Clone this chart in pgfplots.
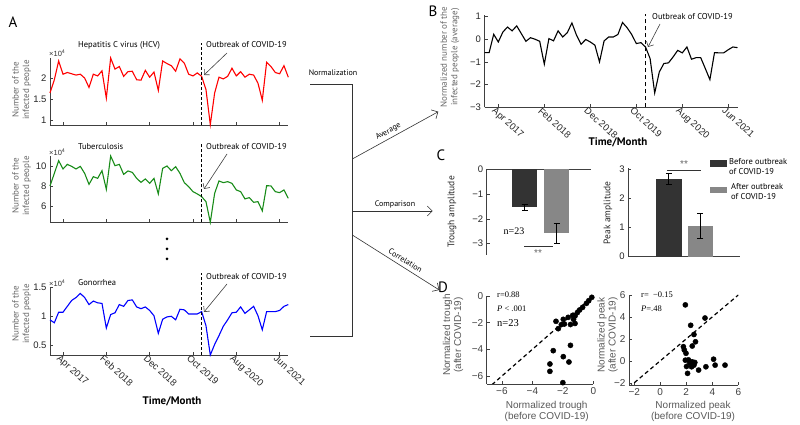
\documentclass[border=0pt]{standalone}
\usepackage{fontspec}
\setmainfont{Liberation Sans}
\newfontfamily\myr{PT Sans}
\newfontfamily\ser{Liberation Serif}
\usepackage{pgfplots}
\usepackage{pgfplotstable}
\pgfplotsset{compat=1.18}
\usetikzlibrary{arrows.meta}
\definecolor{axgray}{gray}{0.25}
\definecolor{labgray}{gray}{0.4}
\definecolor{darkbar}{gray}{0.2}
\definecolor{lightbar}{gray}{0.53}
\definecolor{mgreen}{rgb}{0.1,0.55,0.1}
\pgfplotsset{
  mat/.style={
    scale only axis, anchor=south west,
    axis lines*=left, tick align=inside,
    axis line style={axgray, line width=0.9pt, -},
    major tick style={axgray, line width=0.6pt},
    major tick length=3pt,
    tick label style={font=\fontsize{9.5}{10}\selectfont, text=black!85},
    /pgf/number format/assume math mode=true,
    clip=false,
  },
  datex/.style={xmin=0, xmax=55, xtick={3,13,23,33,43,53}},
  datelabels/.style={xticklabels={Apr 2017,Feb 2018,Dec 2018,Oct 2019,Aug 2020,Jun 2021},
    xticklabel style={rotate=-42, anchor=north west, inner sep=1pt, xshift=-3pt, font=\fontsize{9.5}{10}\selectfont}},
}
\pgfplotstableread[row sep=\\,header=false]{
1.65\\1.96\\2.40\\2.09\\2.13\\2.10\\2.07\\2.09\\2.00\\1.78\\2.09\\2.05\\2.17\\1.53\\2.47\\2.21\\2.27\\2.04\\2.15\\2.16\\1.96\\1.95\\2.18\\2.02\\2.14\\1.71\\2.40\\2.34\\2.29\\2.16\\2.45\\2.35\\2.09\\2.05\\2.12\\2.04\\1.73\\0.91\\1.65\\2.02\\1.98\\2.04\\2.23\\2.05\\2.15\\2.02\\2.09\\2.07\\1.88\\1.48\\2.37\\2.27\\2.13\\2.10\\2.29\\2.02\\
}\hcv
\pgfplotstableread[row sep=\\,header=false]{
8.07\\9.33\\10.6\\9.77\\10.23\\10.03\\9.77\\10.03\\9.33\\8.23\\9.0\\8.83\\9.6\\7.73\\11.07\\10.1\\10.23\\9.23\\9.57\\9.43\\8.83\\8.43\\8.77\\8.33\\8.83\\7.27\\9.83\\10.07\\9.6\\10.0\\9.33\\8.4\\8.0\\7.5\\7.27\\7.0\\6.5\\4.43\\7.33\\8.57\\8.4\\8.5\\8.33\\7.67\\7.5\\6.77\\6.9\\6.43\\6.5\\5.57\\8.1\\8.07\\7.5\\7.4\\7.67\\6.83\\
}\tb
\pgfplotstableread[row sep=\\,header=false]{
0.94\\0.89\\1.07\\1.07\\1.17\\1.27\\1.32\\1.39\\1.32\\1.20\\1.26\\1.23\\1.22\\0.80\\1.03\\1.06\\1.20\\1.17\\1.27\\1.28\\1.16\\1.13\\1.16\\1.10\\1.01\\0.71\\0.95\\0.99\\1.00\\0.94\\1.12\\1.11\\1.04\\1.04\\1.04\\1.08\\0.84\\0.34\\0.52\\0.67\\0.83\\0.94\\1.06\\1.07\\1.16\\1.05\\1.11\\1.17\\1.01\\0.77\\1.08\\1.08\\1.08\\1.10\\1.17\\1.20\\
}\gon
\pgfplotstableread[row sep=\\,header=false]{
-0.59\\-0.59\\0.22\\-0.12\\0.32\\0.54\\0.37\\0.59\\0.25\\-0.09\\0.07\\0.0\\-0.09\\-1.10\\0.03\\-0.07\\0.37\\0.10\\0.29\\0.72\\0.18\\-0.22\\-0.01\\-0.12\\-0.26\\-1.00\\-0.07\\0.10\\0.10\\0.21\\0.74\\0.51\\0.21\\-0.19\\-0.15\\-0.34\\-0.85\\-2.37\\-1.44\\-1.07\\-1.04\\-0.78\\-0.49\\-0.60\\-0.34\\-0.88\\-0.81\\-0.81\\-1.29\\-1.78\\-0.59\\-0.60\\-0.60\\-0.46\\-0.34\\-0.37\\
}\avg
\begin{document}
\begin{tikzpicture}[x=1pt,y=1pt]
\useasboundingbox (0,0) rectangle (800,425);
% ---------------- Panel A ----------------
\begin{axis}[mat, datex, at={(50pt,300pt)}, width=238.3pt, height=67pt,
  ymin=0.9, ymax=2.47, ytick={1,1.5,2}, yticklabels={1,1.5,2}, xticklabels={}]
\addplot[red, line width=1.1pt] table[x expr=\coordindex, y index=0] {\hcv};
\draw[dashed, line width=0.7pt, dash pattern=on 3pt off 2pt] (axis cs:35,0.9) -- (axis cs:35,2.82);
\end{axis}
\begin{axis}[mat, datex, at={(50pt,202.7pt)}, width=238.3pt, height=66.3pt,
  ymin=4.43, ymax=11.07, ytick={6,8,10}, yticklabels={6,8,10}, xticklabels={}]
\addplot[mgreen, line width=1.1pt] table[x expr=\coordindex, y index=0] {\tb};
\draw[dashed, line width=0.7pt, dash pattern=on 3pt off 2pt] (axis cs:35,4.43) -- (axis cs:35,12.37);
\end{axis}
\begin{axis}[mat, datex, datelabels, at={(50pt,70pt)}, width=238.3pt, height=68pt,
  ymin=0.34, ymax=1.5, ytick={0.5,1,1.5}, yticklabels={0.5,1,1.5}]
\addplot[blue, line width=1.1pt] table[x expr=\coordindex, y index=0] {\gon};
\draw[dashed, line width=0.7pt, dash pattern=on 3pt off 2pt] (axis cs:35,0.34) -- (axis cs:35,1.74);
\end{axis}
% Panel A annotations
\node[font=\fontsize{15}{16}\myr] at (13,403) {A};
\foreach \yc in {335,239,111} {
  \node[rotate=90, align=center, font=\fontsize{9}{10.5}\myr, text=labgray] at (21.5,\yc) {Number of the\\infected people};
}
\foreach \yc in {372, 273, 142} {
  \node[anchor=west, inner sep=0pt, font=\fontsize{7.5}{8}\selectfont, text=black!80] at (49,\yc) {×10\textsuperscript{4}};
}
\node[anchor=west, inner sep=0pt, font=\fontsize{8.5}{9}\myr] at (78,380) {Hepatitis C virus (HCV)};
\node[anchor=west, inner sep=0pt, font=\fontsize{8.5}{9}\myr] at (78,278) {Tuberculosis};
\node[anchor=west, inner sep=0pt, font=\fontsize{8.5}{9}\myr] at (78,142) {Gonorrhea};
\foreach \yt/\ys/\ye in {380/372/350, 278/271/236, 148/141/113} {
  \node[anchor=west, inner sep=0pt, font=\fontsize{8.5}{9}\myr] at (206,\yt) {Outbreak of COVID-19};
  \draw[-{Straight Barb[length=4pt]}, black!75, line width=0.6pt] (227,\ys) -- (204,\ye);
}
\foreach \yc in {186,176,166} { \fill (167,\yc) circle (1.5); }
\node[font=\fontsize{11}{12}\myr\bfseries] at (172,24) {Time/Month};
% ---------------- Flow ----------------
\draw[line width=0.9pt, black!80] (310,341) -- (352.3,341) -- (352.3,89) -- (310,89);
\node[font=\fontsize{8}{9}\myr] at (333,352) {Normalization};
\draw[-{Straight Barb[length=5pt]}, black!80, line width=0.6pt] (352.3,266) -- (438.3,313.3);
\node[rotate=28.7, font=\fontsize{8}{9}\myr] at (388.3,293.3) {Average};
\draw[-{Straight Barb[length=5pt]}, black!80, line width=0.6pt] (352.3,214) -- (432.7,214);
\node[font=\fontsize{8}{9}\myr] at (395,221) {Comparison};
\draw[-{Straight Barb[length=5pt]}, black!80, line width=0.6pt] (352.3,190) -- (439.3,135);
\node[rotate=-32, font=\fontsize{8}{9}\myr] at (405.4,164.5) {Correlation};
% ---------------- Panel B ----------------
\begin{axis}[mat, datex, datelabels, at={(484.5pt,317.7pt)}, width=253pt, height=92.3pt,
  ymin=-3, ymax=1.07, ytick={-3,-2,-1,0,1}, yticklabels={−3,−2,−1,0,1}]
\addplot[black, line width=1.1pt] table[x expr=\coordindex, y index=0] {\avg};
\draw[line width=1.3pt, dash pattern=on 4pt off 3pt] (axis cs:35,-3) -- (axis cs:35,1.11);
\end{axis}
\node[font=\fontsize{15}{16}\myr] at (433,414) {B};
\node[rotate=90, align=center, font=\fontsize{9}{10.5}\myr, text=labgray] at (450,368) {Normalized number of the\\infected people (average)};
\node[anchor=west, inner sep=0pt, font=\fontsize{8.5}{9}\myr] at (652,408) {Outbreak of COVID-19};
\draw[-{Straight Barb[length=4pt]}, black!75, line width=0.6pt] (660,401) -- (648,378);
\node[font=\fontsize{11}{12}\myr\bfseries] at (618,283) {Time/Month};
% ---------------- Panel C ----------------
\begin{axis}[mat, at={(486.7pt,170pt)}, width=104pt, height=85.7pt,
  axis x line*=top, axis y line*=left,
  xmin=-0.174, xmax=3.056, ymin=-3.46, ymax=0, xtick=\empty,
  ytick={-3,-2,-1,0}, yticklabels={−3,−2,−1,0}]
\addplot[ybar, bar width=25.5pt, fill=darkbar, draw=none,
  error bars/.cd, y dir=both, y explicit, error bar style={black, line width=0.8pt},
  error mark options={rotate=90, mark size=3pt, black, line width=0.8pt}]
  coordinates {(1,-1.53) +- (0,0.12)};
\addplot[ybar, bar width=25.5pt, fill=lightbar, draw=none,
  error bars/.cd, y dir=both, y explicit, error bar style={black, line width=0.8pt},
  error mark options={rotate=90, mark size=3pt, black, line width=0.8pt}]
  coordinates {(2,-2.58) +- (0,0.40)};
\end{axis}
\begin{axis}[mat, at={(628.3pt,168.3pt)}, width=111.7pt, height=88.7pt,
  xmin=-0.286, xmax=3.26, ymin=0, ymax=3.05, xtick=\empty,
  ytick={0,1,2,3}, yticklabels={0,1,2,3}]
\addplot[ybar, bar width=25.5pt, fill=darkbar, draw=none,
  error bars/.cd, y dir=both, y explicit, error bar style={black, line width=0.8pt},
  error mark options={rotate=90, mark size=3pt, black, line width=0.8pt}]
  coordinates {(1,2.66) +- (0,0.19)};
\addplot[ybar, bar width=25.5pt, fill=lightbar, draw=none,
  error bars/.cd, y dir=both, y explicit, error bar style={black, line width=0.8pt},
  error mark options={rotate=90, mark size=3pt, black, line width=0.8pt}]
  coordinates {(2,1.06) +- (0,0.43)};
\end{axis}
\node[font=\fontsize{15}{16}\myr] at (441,270) {C};
\node[rotate=90, font=\fontsize{9.5}{10}\myr, text=black!85] at (452,213) {Trough amplitude};
\node[rotate=90, font=\fontsize{9.5}{10}\myr, text=black!85] at (608,212) {Peak amplitude};
\node[font=\fontsize{10}{11}\ser] at (514,194) {n=23};
\draw[black!80, line width=0.6pt] (524,179) -- (553,179);
\node[font=\fontsize{10}{11}\selectfont, text=black!60] at (538,172) {**};
\draw[black!80, line width=0.6pt] (667,255) -- (701,255);
\node[font=\fontsize{10}{11}\selectfont, text=black!60] at (684,261) {**};
\fill[darkbar] (710,258) rectangle (727,265);
\node[anchor=north west, align=left, inner sep=0pt, font=\fontsize{8.5}{10}\myr] at (729,266.5) {Before outbreak\\of COVID-19};
\fill[lightbar] (710,232) rectangle (727,238);
\node[anchor=north west, align=left, inner sep=0pt, font=\fontsize{8.5}{10}\myr] at (731,241.5) {After outbreak\\of COVID-19};
% ---------------- Panel D ----------------
\begin{axis}[mat, clip=true, at={(486.7pt,41pt)}, width=106.6pt, height=88pt,
  xmin=-7, xmax=0, ymin=-6.6, ymax=0,
  xtick={-6,-4,-2,0}, xticklabels={−6,−4,−2,0},
  ytick={-6,-4,-2,0}, yticklabels={−6,−4,−2,0},
  tick label style={font=\fontsize{10}{11}\selectfont, text=black!75}]
\addplot[black, line width=1.2pt, dash pattern=on 4pt off 3pt] coordinates {(-7,-7) (0,0)};
\addplot[only marks, mark=*, mark size=2.6pt, black] coordinates {
(-0.1,-0.1) (-0.3,-0.35) (-0.45,-0.55) (-0.7,-0.85) (-0.9,-1.05) (-1.05,-1.25)
(-1.2,-1.5) (-1.35,-1.45) (-1.3,-1.75) (-1.2,-2.06) (-1.5,-2.14) (-1.65,-1.6)
(-1.97,-1.75) (-1.9,-2.1) (-2.1,-2.15) (-2.45,-1.9) (-2.3,-2.45)
(-1.5,-3.7) (-2.63,-4.1) (-1.97,-4.55) (-1.6,-4.95) (-2.85,-5.1) (-2.85,-5.65) (-2.0,-6.5)};
\end{axis}
\begin{axis}[mat, clip=true, at={(629pt,40pt)}, width=109.3pt, height=90pt,
  xmin=-2.4, xmax=6, ymin=-2.2, ymax=6,
  xtick={-2,0,2,4,6}, xticklabels={−2,0,2,4,6},
  ytick={-2,0,2,4,6}, yticklabels={−2,0,2,4,6},
  tick label style={font=\fontsize{10}{11}\selectfont, text=black!75}]
\addplot[black, line width=1.2pt, dash pattern=on 4pt off 3pt] coordinates {(-2.4,-2.4) (6,6)};
\addplot[only marks, mark=*, mark size=2.6pt, black] coordinates {
(1.93,5.1) (3.44,3.9) (2.34,3.24) (2.59,2.4) (2.71,1.74) (2.46,1.35) (1.78,1.29)
(1.85,0.99) (1.98,0.69) (1.93,0.06) (2.17,0.09) (2.46,-0.09) (2.66,-0.15) (2.02,-0.51)
(2.41,-0.54) (2.59,-0.39) (2.10,-1.14) (2.95,-0.84) (3.51,-0.54) (4.10,0.15) (4.22,-0.39)
(4.98,-0.39) (2.27,-0.21)};
\end{axis}
\node[font=\fontsize{15}{16}\myr] at (443,138) {D};
\node[rotate=90, align=center, font=\fontsize{10}{11}\selectfont, text=black!65] at (453,90) {Normalized trough\\(after COVID-19)};
\node[rotate=90, align=center, font=\fontsize{10}{11}\selectfont, text=black!65] at (607.5,90) {Normalized peak\\(after COVID-19)};
\node[align=center, font=\fontsize{10}{11}\selectfont, text=black!65] at (546.7,13.5) {Normalized trough\\(before COVID-19)};
\node[align=center, font=\fontsize{10}{11}\selectfont, text=black!65] at (693,13.5) {Normalized peak\\(before COVID-19)};
\node[anchor=west, inner sep=0pt, font=\fontsize{8.5}{9}\ser] at (497,130) {r=0.88};
\node[anchor=west, inner sep=0pt, font=\fontsize{8.5}{9}\ser] at (497,116) {\textit{P} < .001};
\node[anchor=west, inner sep=0pt, font=\fontsize{10.5}{11}\ser] at (497,102) {n=23};
\node[anchor=west, inner sep=0pt, font=\fontsize{8.5}{9}\ser] at (641,130) {r=\ \ −0.15};
\node[anchor=west, inner sep=0pt, font=\fontsize{8.5}{9}\ser] at (641,116) {\textit{P}=.48};
\end{tikzpicture}
\end{document}
